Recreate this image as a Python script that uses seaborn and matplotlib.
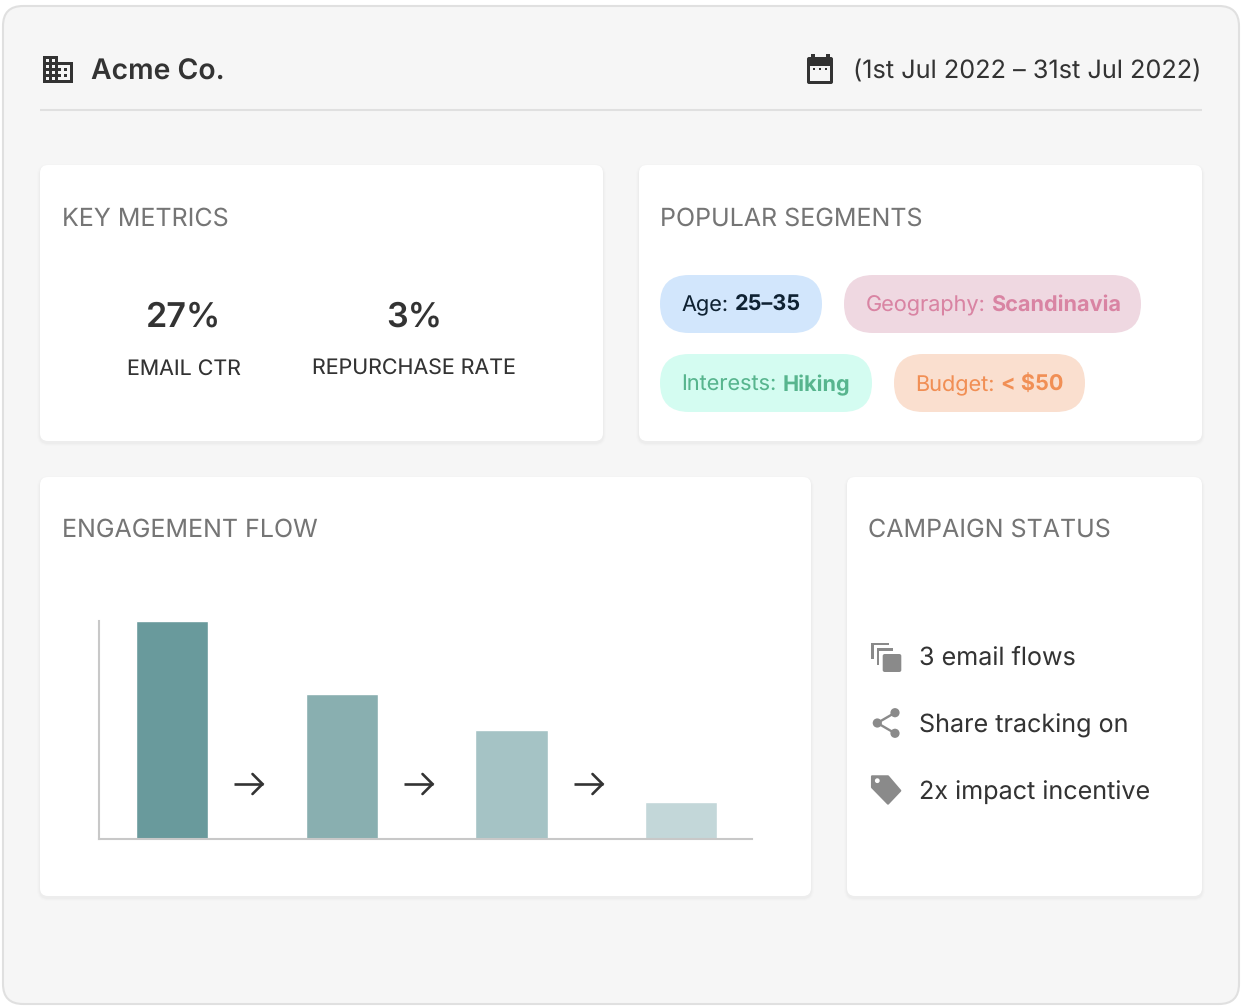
import matplotlib
matplotlib.use("Agg")
import matplotlib.pyplot as plt
import pandas as pd
import seaborn as sns
from matplotlib.patches import Circle, FancyBboxPatch, Polygon, Rectangle

# Data
company = "Acme Co."
date_range = "(1st Jul 2022 – 31st Jul 2022)"
card_titles = ["KEY METRICS", "POPULAR SEGMENTS", "ENGAGEMENT FLOW", "CAMPAIGN STATUS"]
metric_values = ["27%", "3%"]
metric_labels = ["EMAIL CTR", "REPURCHASE RATE"]
segment_names = ["Age:", "Geography:", "Interests:", "Budget:"]
segment_values = ["25–35", "Scandinavia", "Hiking", "< $50"]
flow_stages = ["Stage 1", "Stage 2", "Stage 3", "Stage 4"]
flow_values = [6, 4, 3, 1]
status_items = ["3 email flows", "Share tracking on", "2x impact incentive"]

# Colours
page_bg = "#F6F6F6"
border = "#E0E0E0"
dark = "#333333"
grey = "#757575"
icon_grey = "#8A8A8A"
bar_colors = ["#699A9C", "#89AFB0", "#A5C3C5", "#C3D7D9"]
pill_bg = ["#D2E6FC", "#EFD8E1", "#D4FCF1", "#FADFCF"]
pill_fg = ["#0F2233", "#D984A3", "#57B58E", "#F18F55"]

sns.set_theme(style="white")
plt.rcParams["font.family"] = ["Inter", "DejaVu Sans"]
plt.rcParams["text.hinting"] = "none"
plt.rcParams["text.hinting_factor"] = 1

fig = plt.figure(figsize=(12.48, 10.08), dpi=100, facecolor="white")

# Full size axes working in pixels, for the cards and icons
bg = fig.add_axes([0, 0, 1, 1])
bg.set_xlim(0, 1248)
bg.set_ylim(1008, 0)
bg.axis("off")


def rbox(x0, y0, x1, y1, r, fc, ec="none", lw=0, z=1, alpha=None):
    p = FancyBboxPatch((x0 + 0, y0), x1 - x0, y1 - y0, boxstyle=f"round,pad=0,rounding_size={r}",
                       fc=fc, ec=ec, lw=lw, zorder=z, alpha=alpha)
    bg.add_patch(p)
    return p


def rect(x0, y0, x1, y1, color, z=5):
    bg.add_patch(Rectangle((x0, y0), x1 - x0, y1 - y0, fc=color, ec="none", zorder=z))


def card(x0, y0, x1, y1):
    # soft shadow under the card
    for grow, a in [(3, 0.008), (2, 0.012), (1, 0.016)]:
        rbox(x0 - grow, y0 - grow + 2, x1 + grow, y1 + grow + 2, 8 + grow, "black", z=2, alpha=a)
    rbox(x0, y0, x1, y1, 8, "white", z=3)


def txt(x, y, s, size, color=dark, weight="normal", ha="left"):
    return bg.text(x, y, s, fontsize=size, color=color, fontweight=weight, ha=ha, va="baseline", zorder=6)


# Outer panel
rbox(3, 6, 1239, 1004, 20, page_bg, ec=border, lw=1.5)

# Header
bg.plot([40, 1202], [110, 110], color=border, lw=1.5, zorder=2, solid_capstyle="butt")
txt(91, 80, company, 20.4, weight=600)
txt(1201, 78, date_range, 18.2, ha="right")

# Building icon
ix, iy, u = 40, 51, 1.5
rect(ix + 2 * u, iy + 3 * u, ix + 12 * u, iy + 21 * u, dark)
rect(ix + 12 * u, iy + 7 * u, ix + 22 * u, iy + 21 * u, dark)
for col in [4, 8]:
    for row in [5, 9, 13, 17]:
        rect(ix + col * u, iy + row * u, ix + (col + 2) * u, iy + (row + 2) * u, page_bg, z=6)
rect(ix + 12 * u, iy + 9 * u, ix + 20 * u, iy + 19 * u, page_bg, z=6)
for row in [11, 15]:
    rect(ix + 12 * u, iy + row * u, ix + 14 * u, iy + (row + 2) * u, dark, z=7)
    rect(ix + 16 * u, iy + row * u, ix + 18 * u, iy + (row + 2) * u, dark, z=7)

# Calendar icon
rbox(807, 57, 833, 84, 2, dark, z=5)
rect(811, 54, 815, 58, dark)
rect(826, 54, 830, 58, dark)
rect(810, 66, 830, 81, page_bg, z=6)
for dot in [814, 820, 826]:
    rect(dot - 1, 68, dot + 1, 70, dark, z=7)

# Cards
card(40, 165, 603, 441)
card(639, 165, 1202, 441)
card(40, 477, 811, 896)
card(847, 477, 1202, 896)

for (x, y), title in zip([(61.5, 226), (660.5, 226), (61.5, 537), (868.5, 537)], card_titles):
    txt(x, y, title, 18.0, color=grey)

# Key metrics
for x, value, label in zip([184, 414], metric_values, metric_labels):
    txt(x, 327, value, 24.6, weight=600, ha="center")
    txt(x, 375, label, 15.4, ha="center")

# Segment pills
pill_boxes = [(660, 275, 822, 333), (844, 275, 1141, 333), (660, 354, 872, 412), (894, 354, 1085, 412)]
baselines = [311, 311, 391, 391]
renderer = fig.canvas.get_renderer()
for box, base, name, value, bg_c, fg_c in zip(pill_boxes, baselines, segment_names, segment_values, pill_bg, pill_fg):
    rbox(box[0], box[1], box[2], box[3], 29, bg_c, z=4)
    t = txt(box[0] + 21.5, base, name, 15.6, color=fg_c)
    right = t.get_window_extent(renderer).x1
    txt(right + 6, base, value, 15.6, color=fg_c, weight="bold")

# Engagement flow bars
flow = pd.DataFrame({"stage": flow_stages, "value": flow_values})
ax = fig.add_axes([99 / 1248, (1008 - 838.5) / 1008, 653.5 / 1248, 217.5 / 1008], zorder=5)
ax.patch.set_alpha(0)
sns.barplot(data=flow, x="stage", y="value", hue="stage", palette=bar_colors, saturation=1,
            width=0.425, legend=False, ax=ax)
ax.set_xlim(-0.43, 3.42)
ax.set_ylim(0, 6)
ax.set_xlabel("")
ax.set_ylabel("")
ax.set_xticks([])
ax.set_yticks([])
sns.despine(ax=ax)
for side in ["left", "bottom"]:
    ax.spines[side].set_color("#C8C8C8")
    ax.spines[side].set_linewidth(1.5)

# Arrows between the bars
for x in [248.5, 418.5, 588.5]:
    bg.plot([x - 15, x + 14], [784, 784], color=dark, lw=1.9, zorder=6, solid_capstyle="butt")
    bg.plot([x + 4, x + 14, x + 4], [774, 784, 794], color=dark, lw=1.9, zorder=6, solid_joinstyle="miter")

# Campaign status rows
for y, item in zip([665, 733, 800], status_items):
    txt(919, y, item, 18.1)

# Copy icon
rect(871, 642.7, 889.3, 645.3, icon_grey)
rect(871, 642.7, 873.7, 659.3, icon_grey)
rect(876.7, 648.3, 893, 651, icon_grey)
rect(876.7, 648.3, 879.3, 665, icon_grey)
rbox(882.7, 654, 901.3, 672, 2, icon_grey, z=5)

# Share icon
bg.plot([895, 877.3, 895], [712.7, 723, 733.3], color=icon_grey, lw=1.7, zorder=5)
for cx, cy in [(895, 712.7), (877.3, 723), (895, 733.3)]:
    bg.add_patch(Circle((cx, cy), 4.6, fc=icon_grey, ec="none", zorder=5))

# Tag icon
bg.add_patch(Polygon([(872, 776.3), (888, 776.3), (900.3, 790.7), (888, 803.7), (872, 787.3)], closed=True,
                     fc=icon_grey, ec=icon_grey, lw=1.5, joinstyle="round", zorder=5))
bg.add_patch(Circle((877.3, 780.7), 2.4, fc="white", ec="none", zorder=6))

fig.savefig("out.png", dpi=100, facecolor="white")
